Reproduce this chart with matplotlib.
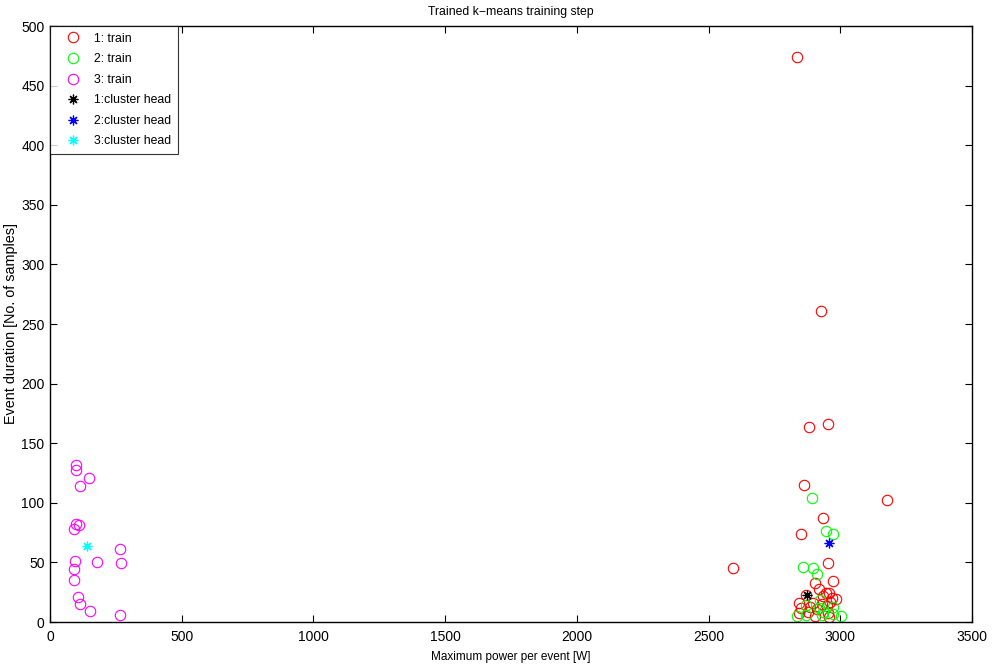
import matplotlib
matplotlib.use("Agg")
import matplotlib.pyplot as plt

plt.rcParams['font.family'] = ['Liberation Sans', 'DejaVu Sans']

red_x = [2836, 2927, 2881, 2954, 3176, 2864, 2593, 2935, 2849, 2955, 2971, 2904,
         2918, 2868, 2945, 2959, 2983, 2968, 2936, 2842, 2898, 2932, 2950, 2961,
         2851, 2913, 2878, 2955, 2904, 2959, 2842, 2886]
red_y = [474, 261, 164, 166, 102, 115, 45, 87.5, 73.5, 49.5, 34.7, 32.5,
         27.4, 23, 24.6, 24, 19, 19.9, 21.8, 16.2, 15.7, 15, 13.5, 16.8,
         11.5, 10.6, 8.7, 7.3, 5.3, 4.5, 7.8, 13]

green_x = [2893, 2944, 2971, 2857, 2897, 2911, 2923, 2868, 2974, 2936, 2836, 2868,
           2929, 2974, 3003, 2918]
green_y = [104, 76.3, 73.5, 46, 45.6, 40.5, 18.5, 14, 12.8, 8.7, 5.3, 5.6,
           6.1, 6.7, 5.3, 12]

magenta_x = [97, 97, 148, 113, 99, 111, 90, 96, 178, 265, 270, 90, 92, 106, 113, 152, 266]
magenta_y = [131.7, 127.5, 120.5, 114.4, 82, 81.4, 78, 51.4, 50.3, 61.5, 49.5, 44.5,
             35.2, 21, 15.4, 9.5, 5.6]

head_x = [2874, 2957, 140]
head_y = [22.7, 66.5, 63.5]

train_labels = ['1: train', '2: train', '3: train']
head_labels = ['1:cluster head', '2:cluster head', '3:cluster head']
train_colors = ['#ff0000', '#00ff00', '#ff00ff']
head_colors = ['#000000', '#0000ff', '#00ffff']

x_ticks = [0, 500, 1000, 1500, 2000, 2500, 3000, 3500]
y_ticks = [0, 50, 100, 150, 200, 250, 300, 350, 400, 450, 500]

fig = plt.figure(figsize=(9.93, 6.64), dpi=100)
ax = fig.add_axes([50/993, 1-622/664, (972-50)/993, (622-26)/664])

series = [(red_x, red_y), (green_x, green_y), (magenta_x, magenta_y)]
for (xs, ys), c, lab in zip(series, train_colors, train_labels):
    ax.plot(xs, ys, linestyle='none', marker='o', markersize=7.5,
            markerfacecolor='none', markeredgecolor=c, markeredgewidth=0.8,
            label=lab)
for hx, hy, c, lab in zip(head_x, head_y, head_colors, head_labels):
    ax.plot([hx], [hy], linestyle='none', marker=(8, 2, 0), markersize=7,
            markeredgecolor=c, markeredgewidth=0.9, color=c, label=lab)

ax.set_xlim(0, 3500)
ax.set_ylim(0, 500)
ax.set_xticks(x_ticks)
ax.set_yticks(y_ticks)
ax.tick_params(direction='in', top=True, right=True, length=5, width=0.8,
               labelsize=10)
ax.tick_params(axis='x', pad=6)
ax.tick_params(axis='y', pad=4)
for s in ax.spines.values():
    s.set_linewidth(1.0)

ax.set_title('Trained k\u2212means training step', fontsize=8.8, pad=8)
ax.set_xlabel('Maximum power per event [W]', fontsize=8.5, labelpad=5)
ax.set_ylabel('Event duration [No. of samples]', fontsize=10.4, labelpad=2)

leg = ax.legend(loc='upper left', fontsize=8.8, frameon=True, fancybox=False,
                borderaxespad=0, handletextpad=0.45, handlelength=2.6,
                labelspacing=0.7, borderpad=0.55)
leg.get_frame().set_edgecolor('black')
leg.get_frame().set_linewidth(0.8)

fig.savefig('out.png', dpi=100)
